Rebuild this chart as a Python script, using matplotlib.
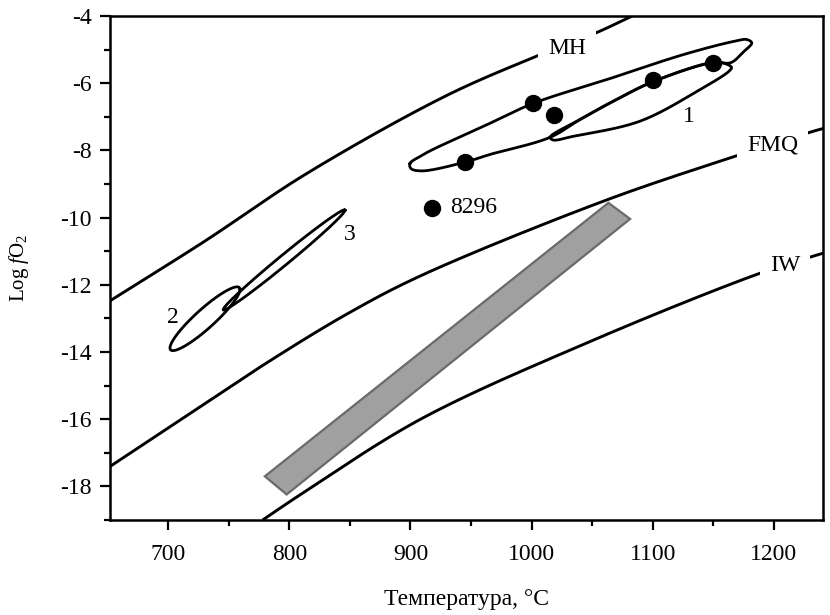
import numpy as np
import matplotlib
matplotlib.use("Agg")
import matplotlib.pyplot as plt
from matplotlib.ticker import MultipleLocator
from matplotlib.patches import Polygon

plt.rcParams['font.family'] = ['Liberation Serif', 'DejaVu Serif']
plt.rcParams['mathtext.fontset'] = 'custom'
plt.rcParams['mathtext.rm'] = 'Liberation Serif'
plt.rcParams['mathtext.it'] = 'Liberation Serif:italic'
plt.rcParams['axes.unicode_minus'] = False

# ---------------- data ----------------
# oxygen buffers: temperature (°C) and log fO2
mh_t = [651.9, 730.3, 812.9, 928.5, 1001.1, 1053.9, 1083.0]
mh_v = [-12.48, -10.70, -8.72, -6.39, -5.24, -4.49, -4.00]
fmq_t = [651.9, 718.0, 785.4, 850.0, 907.9, 1059.3, 1164.0, 1231.5, 1240.5]
fmq_v = [-17.41, -15.83, -14.23, -12.82, -11.74, -9.51, -8.22, -7.44, -7.35]
iw_t = [778.0, 810.2, 907.8, 1045.5, 1185.9, 1234.0, 1240.5]
iw_v = [-19.00, -18.22, -16.01, -13.73, -11.69, -11.13, -11.06]
buffer_names = ["MH", "FMQ", "IW"]
buffer_label_t = [1029.4, 1199.0, 1209.2]
buffer_label_v = [-4.98, -7.85, -11.44]

# field 1 (outer contour) vertices
field1_outer_t = [899.6, 909.4, 918.6, 959.9, 1001.4, 1062.3, 1125.1, 1166.3,
                  1177.6, 1181.7, 1175.4, 1164.3, 1150.0, 1100.5, 1067.2,
                  1040.0, 1015.3, 965.7, 945.0, 909.4, 900.4]
field1_outer_v = [-8.39, -8.15, -7.97, -7.29, -6.60, -5.89, -5.15, -4.76,
                  -4.70, -4.80, -5.05, -5.39, -5.38, -5.95, -6.54,
                  -7.08, -7.61, -8.12, -8.35, -8.61, -8.54]
# field 1 (inner contour) vertices
field1_inner_t = [1015.3, 1040.0, 1067.2, 1100.5, 1150.0, 1160.0, 1165.0,
                  1163.0, 1139.0, 1089.5, 1034.4, 1017.7]
field1_inner_v = [-7.61, -7.08, -6.54, -5.95, -5.38, -5.42, -5.53,
                  -5.64, -6.19, -7.13, -7.58, -7.69]

# fields 2 and 3: end points and vertical half-width at centre
field2_ends_t = [701.5, 759.3]
field2_ends_v = [-13.88, -12.14]
field2_halfwidth = 0.38
field3_ends_t = [745.4, 846.0]
field3_ends_v = [-12.74, -9.78]
field3_halfwidth = 0.19

field_labels = ["1", "2", "3"]
field_label_t = [1129.4, 704.2, 850.0]
field_label_v = [-6.98, -12.98, -10.50]

# sample points
samples_t = [945.0, 1001.5, 1018.1, 1100.5, 1150.0]
samples_v = [-8.35, -6.60, -6.96, -5.91, -5.39]
sample8296_t = 917.5
sample8296_v = -9.71
sample8296_name = "8296"

# grey band corners
band_t = [779.8, 797.8, 1081.3, 1063.4]
band_v = [-17.70, -18.24, -10.04, -9.56]

xticks = [700, 800, 900, 1000, 1100, 1200]
yticks = [-18, -16, -14, -12, -10, -8, -6, -4]


# ---------------- helpers ----------------
def _cr_segment(P0, P1, P2, P3, n, alpha=0.5):
    def tj(ti, a, b):
        return ti + max(np.hypot(*(b - a)), 1e-6) ** alpha
    t0 = 0.0
    t1 = tj(t0, P0, P1)
    t2 = tj(t1, P1, P2)
    t3 = tj(t2, P2, P3)
    t = np.linspace(t1, t2, n, endpoint=False)[:, None]
    A1 = (t1 - t) / (t1 - t0) * P0 + (t - t0) / (t1 - t0) * P1
    A2 = (t2 - t) / (t2 - t1) * P1 + (t - t1) / (t2 - t1) * P2
    A3 = (t3 - t) / (t3 - t2) * P2 + (t - t2) / (t3 - t2) * P3
    B1 = (t2 - t) / (t2 - t0) * A1 + (t - t0) / (t2 - t0) * A2
    B2 = (t3 - t) / (t3 - t1) * A2 + (t - t1) / (t3 - t1) * A3
    return (t2 - t) / (t2 - t1) * B1 + (t - t1) / (t2 - t1) * B2


def smooth_curve(ax, xs, ys, closed=False, n=30):
    """Centripetal Catmull-Rom curve through the vertices (in screen space)."""
    P = ax.transData.transform(np.column_stack([xs, ys]))
    m = len(P)
    out = []
    if closed:
        for i in range(m):
            out.append(_cr_segment(P[i - 1], P[i], P[(i + 1) % m],
                                   P[(i + 2) % m], n))
        out.append(P[:1])
    else:
        Q = np.vstack([2 * P[0] - P[1], P, 2 * P[-1] - P[-2]])
        for i in range(1, m):
            out.append(_cr_segment(Q[i - 1], Q[i], Q[i + 1], Q[i + 2], n))
        out.append(P[-1:])
    out = np.vstack(out)
    d = ax.transData.inverted().transform(out)
    return d[:, 0], d[:, 1]


def conj_ellipse(ts, vs, h, n=200):
    c = np.array([(ts[0] + ts[1]) / 2, (vs[0] + vs[1]) / 2])
    a = np.array([(ts[1] - ts[0]) / 2, (vs[1] - vs[0]) / 2])
    b = np.array([0.0, h])
    th = np.linspace(0, 2 * np.pi, n)
    pts = c[None, :] + np.cos(th)[:, None] * a + np.sin(th)[:, None] * b
    return pts[:, 0], pts[:, 1]


# ---------------- figure ----------------
fig = plt.figure(figsize=(8.3, 6.15), dpi=100)
ax = fig.add_axes([110 / 830, 95 / 615, 713 / 830, 504 / 615])

ax.set_xlim(652, 1240.5)
ax.set_ylim(-19, -4)

# grey band
ax.add_patch(Polygon(np.column_stack([band_t, band_v]), closed=True,
                     facecolor="#a0a0a0", edgecolor="#6a6a6a", lw=1.6, zorder=1))

# buffer curves
for bt, bv in [(mh_t, mh_v), (fmq_t, fmq_v), (iw_t, iw_v)]:
    x, y = smooth_curve(ax, bt, bv)
    ax.plot(x, y, color="black", lw=2.1, solid_capstyle="butt", zorder=2)

for name, lt, lv in zip(buffer_names, buffer_label_t, buffer_label_v):
    ax.text(lt, lv, name, fontsize=17, ha="center", va="center", zorder=4,
            bbox=dict(boxstyle="square,pad=0.42", facecolor="white",
                      edgecolor="none"))

# fields
x, y = smooth_curve(ax, field1_outer_t, field1_outer_v, closed=True)
ax.plot(x, y, color="black", lw=2.0, zorder=3)
x, y = smooth_curve(ax, field1_inner_t, field1_inner_v, closed=True)
ax.plot(x, y, color="black", lw=2.0, zorder=3)
x, y = conj_ellipse(field2_ends_t, field2_ends_v, field2_halfwidth)
ax.plot(x, y, color="black", lw=2.0, zorder=3)
x, y = conj_ellipse(field3_ends_t, field3_ends_v, field3_halfwidth)
ax.plot(x, y, color="black", lw=2.0, zorder=3)

for lab, lt, lv in zip(field_labels, field_label_t, field_label_v):
    ax.text(lt, lv, lab, fontsize=17, ha="center", va="center", zorder=4)

# sample points
ax.plot(samples_t, samples_v, "o", color="black", ms=11.5, zorder=5)
ax.plot([sample8296_t], [sample8296_v], "o", color="black", ms=11.5, zorder=5)
ax.text(932.6, sample8296_v, sample8296_name, fontsize=17, ha="left",
        va="center", zorder=4)

# axes styling
ax.set_xticks(xticks)
ax.set_yticks(yticks)
ax.xaxis.set_minor_locator(MultipleLocator(50))
ax.yaxis.set_minor_locator(MultipleLocator(1))
ax.tick_params(which="major", direction="out", length=7, width=1.6,
               labelsize=17, top=False, right=False)
ax.tick_params(axis="x", which="major", pad=10)
ax.tick_params(axis="y", which="major", pad=6)
ax.tick_params(which="minor", direction="out", length=4, width=1.6,
               top=False, right=False)
for sp in ax.spines.values():
    sp.set_linewidth(1.8)

ax.set_xlabel("Температура, °C", fontsize=17)
ax.xaxis.set_label_coords(0.5, (520 - 600) / 504)
ax.xaxis.label.set_va("center")
ax.set_ylabel(r"Log $f$O$_2$", fontsize=15)
ax.yaxis.set_label_coords((19 - 110) / 713, 0.5)
ax.yaxis.label.set_va("center")

fig.savefig("out.png", dpi=100)
